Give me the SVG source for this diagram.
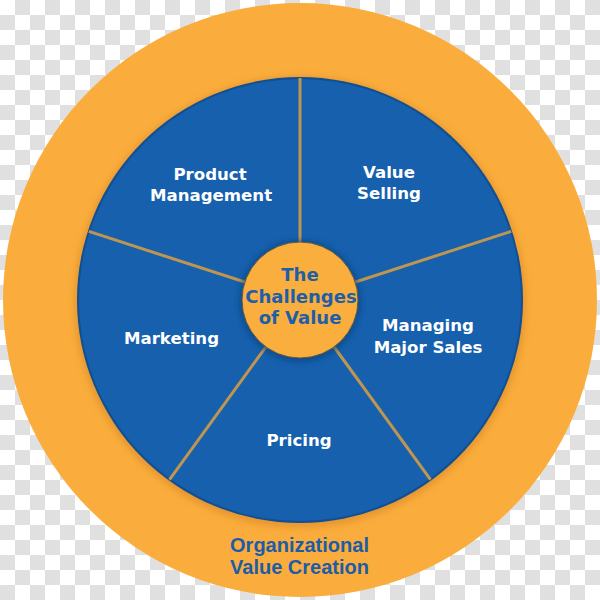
<svg xmlns="http://www.w3.org/2000/svg" width="600" height="600" viewBox="0 0 600 600">
  <defs>
    <pattern id="checker" x="0" y="0" width="30" height="30" patternUnits="userSpaceOnUse">
      <rect width="30" height="30" fill="#ffffff"/>
      <rect x="15" y="0" width="15" height="15" fill="#e0e0e0"/>
      <rect x="0" y="15" width="15" height="15" fill="#e0e0e0"/>
    </pattern>
    <filter id="soft" x="-20%" y="-20%" width="140%" height="140%">
      <feGaussianBlur stdDeviation="3"/>
    </filter>
    <style>
      .seg { fill: #1660ad; }
      .white { fill: #ffffff; font-family: "DejaVu Sans", "Liberation Sans", sans-serif; font-weight: bold; font-size: 16.6px; text-anchor: middle; }
      .blue { fill: #1f5ea8; font-family: "DejaVu Sans", "Liberation Sans", sans-serif; font-weight: bold; font-size: 18px; text-anchor: middle; }
      .ring { fill: #1d5ca8; font-family: "Liberation Sans", Arial, sans-serif; font-weight: bold; font-size: 20px; text-anchor: middle; }
      .divider { stroke: #bf9650; stroke-width: 3; fill: none; }
    </style>
  </defs>

  <rect width="600" height="600" fill="url(#checker)"/>

  <g id="outer-ring">
    <circle cx="300" cy="300" r="297" fill="#faad3c"/>
    <circle cx="300" cy="302" r="226" fill="#d9892a" opacity="0.6" filter="url(#soft)"/>
    <text class="ring" x="299.5" y="551.5">Organizational</text>
    <text class="ring" x="299.5" y="573.5">Value Creation</text>
  </g>

  <g id="wheel-base">
    <circle cx="300" cy="300" r="223" fill="#114f92"/>
  </g>

  <g id="value-selling">
    <path class="seg" d="M300,300 L300,79 A221,221 0 0 1 510.2,231.7 Z"/>
    <text class="white" x="389" y="178">Value</text>
    <text class="white" x="389" y="199">Selling</text>
  </g>
  <g id="managing-major-sales">
    <path class="seg" d="M300,300 L510.2,231.7 A221,221 0 0 1 429.9,478.8 Z"/>
    <text class="white" x="428" y="331">Managing</text>
    <text class="white" x="428" y="353">Major Sales</text>
  </g>
  <g id="pricing">
    <path class="seg" d="M300,300 L429.9,478.8 A221,221 0 0 1 170.1,478.8 Z"/>
    <text class="white" x="299" y="446">Pricing</text>
  </g>
  <g id="marketing">
    <path class="seg" d="M300,300 L170.1,478.8 A221,221 0 0 1 89.8,231.7 Z"/>
    <text class="white" x="171.5" y="344">Marketing</text>
  </g>
  <g id="product-management">
    <path class="seg" d="M300,300 L89.8,231.7 A221,221 0 0 1 300,79 Z"/>
    <text class="white" x="210" y="180">Product</text>
    <text class="white" x="211" y="201">Management</text>
  </g>

  <g id="connectors">
    <line class="divider" x1="300" y1="300" x2="300" y2="78"/>
    <line class="divider" x1="300" y1="300" x2="511.1" y2="231.4"/>
    <line class="divider" x1="300" y1="300" x2="430.5" y2="479.6"/>
    <line class="divider" x1="300" y1="300" x2="169.5" y2="479.6"/>
    <line class="divider" x1="300" y1="300" x2="88.9" y2="231.4"/>
  </g>

  <g id="center">
    <circle cx="300" cy="301" r="60" fill="#0c3d72" opacity="0.7" filter="url(#soft)"/>
    <circle cx="300" cy="300" r="58" fill="#f9ae3e" stroke="#5a5a4a" stroke-width="1"/>
    <text class="blue" x="300" y="281">The</text>
    <text class="blue" x="301" y="303">Challenges</text>
    <text class="blue" x="300" y="324">of Value</text>
  </g>
</svg>
